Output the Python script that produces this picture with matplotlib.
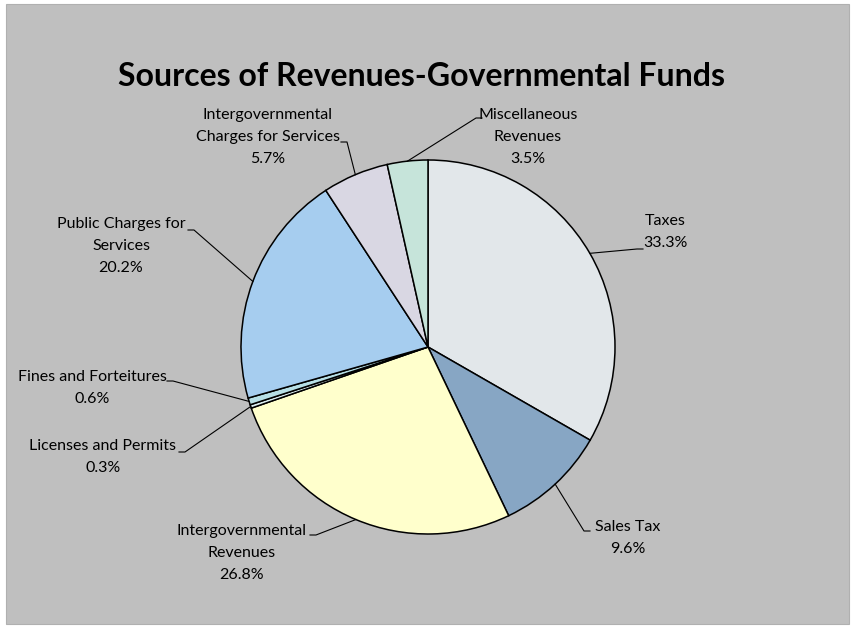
import numpy as np
import matplotlib.pyplot as plt
from matplotlib.patches import Rectangle

# revenue shares (percent), clockwise from 12 o'clock
categories = ["Taxes", "Sales Tax", "Intergovernmental\nRevenues", "Licenses and Permits",
              "Fines and Forteitures", "Public Charges for\nServices",
              "Intergovernmental\nCharges for Services", "Miscellaneous\nRevenues"]
shares = [33.3, 9.6, 26.8, 0.3, 0.6, 20.2, 5.7, 3.5]
colors = ["#e2e7ea", "#87a6c4", "#ffffcc", "#dceef2", "#b7dfe6", "#a6cdef", "#d9d7e3", "#c6e4da"]

# label block centres and leader-line anchor points (pixels from top-left)
label_xy = [(665, 232), (628, 538), (242, 553), (103, 457),
            (92, 388), (121, 246), (268, 137), (528, 137)]
anchor_xy = [(643, 249), (590, 531), (310, 535), (179, 452),
             (167, 381), (188, 230), (341, 142), (482, 118)]
tail_dir = [-1, -1, 1, 1, 1, 1, 1, -1]

W, H = 854, 627
cx, cy, r = 428, 280, 187

plt.rcParams['font.family'] = ['Lato', 'DejaVu Sans']

fig = plt.figure(figsize=(W / 100, H / 100), dpi=100, facecolor="white")
ax = fig.add_axes([0, 0, 1, 1])

ax.add_patch(Rectangle((6, 3), 843, 620, facecolor="#bfbfbf", edgecolor="#b0b0b0", lw=0.8, zorder=0))

wedges, _ = ax.pie(shares, colors=colors, startangle=90, counterclock=False,
                   center=(cx, cy), radius=r, frame=True,
                   wedgeprops=dict(edgecolor="black", linewidth=1.1))
ax.set_xlim(0, W)
ax.set_ylim(0, H)
ax.set_aspect("equal")
ax.axis("off")

for w, name, val, (lx, ly), (axx, ayy), d in zip(wedges, categories, shares, label_xy, anchor_xy, tail_dir):
    ax.text(lx, H - ly, f"{name}\n{val}%", ha="center", va="center",
            fontsize=11.5, linespacing=1.75, color="black", zorder=5)
    mid = np.deg2rad((w.theta1 + w.theta2) / 2)
    ex, ey = cx + r * np.cos(mid), cy + r * np.sin(mid)
    ay = H - ayy
    ax.plot([axx, axx + 6 * d, ex], [ay, ay, ey], color="black", lw=0.8, zorder=4)

ax.text(422, H - 76, "Sources of Revenues-Governmental Funds", ha="center", va="center",
        fontsize=23, fontweight="bold", color="black")

fig.savefig("out.png", dpi=100, facecolor=fig.get_facecolor())
